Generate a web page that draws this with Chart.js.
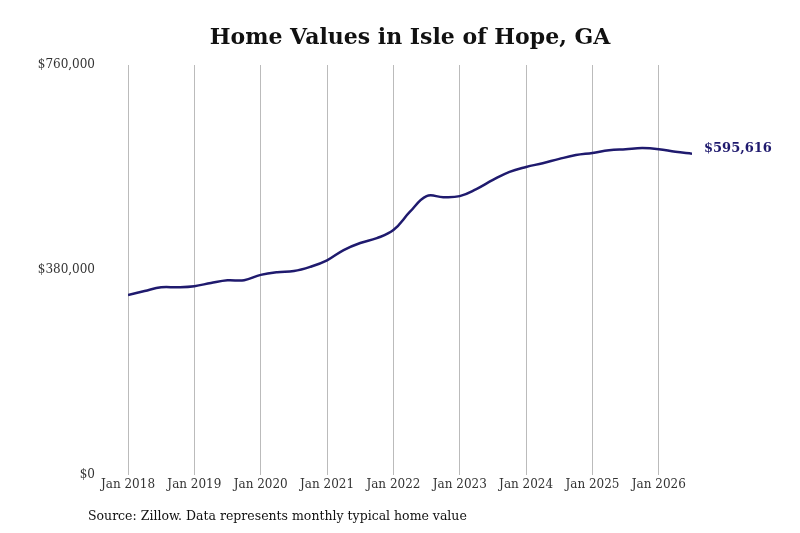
<!DOCTYPE html>
<html><head><meta charset="utf-8">
<script src="https://cdn.jsdelivr.net/npm/chart.js@4"></script>
<style>body{margin:0;background:#fff}#wrap{width:800px;height:533px}</style>
</head><body><div id="wrap"><canvas id="myChart"></canvas></div>
<script>
// months since Jan 2018, quarterly readings
var months = [0,3,6,9,12,15,18,21,24,27,30,33,36,39,42,45,48,51,54,57,60,63,66,69,72,75,78,81,84,87,90,93,96,99,102];
var values = [333700,341000,348000,348000,350000,356000,361000,361000,371000,376000,378000,386000,398000,417000,430000,439000,454000,488000,517000,515000,517000,530000,547000,562000,571000,578000,586000,593000,597000,602000,604000,606000,604000,599000,595616];
var yTicks = [0,380000,760000];
var lastLabel = "$595,616";
var serif = "'DejaVu Serif', 'Liberation Serif', serif";

var extras = {
  id: 'extras',
  afterDraw: function(c) {
    var ctx = c.ctx;
    ctx.save();
    ctx.fillStyle = '#111';
    ctx.font = 'bold 22px ' + serif;
    ctx.textAlign = 'center';
    ctx.textBaseline = 'middle';
    ctx.fillText('Home Values in Isle of Hope, GA', 410, 38);
    ctx.font = '12.5px ' + serif;
    ctx.textAlign = 'left';
    ctx.fillText('Source: Zillow. Data represents monthly typical home value', 88, 517);
    var x = c.scales.x.getPixelForValue(months[months.length-1]);
    var y = c.scales.y.getPixelForValue(values[values.length-1]);
    ctx.fillStyle = '#1f1a6e';
    ctx.font = 'bold 13px ' + serif;
    ctx.fillText(lastLabel, x + 12, y - 5);
    ctx.restore();
  }
};

new Chart(document.getElementById('myChart'), {
  type: 'line',
  data: { datasets: [{
    data: months.map(function(m, i){ return {x: m, y: values[i]}; }),
    borderColor: '#1f1a6e', borderWidth: 2.5, pointRadius: 0, tension: 0.4, fill: false
  }]},
  options: {
    responsive: true, maintainAspectRatio: false, animation: false,
    layout: { padding: { top: 65, right: 108, bottom: 0, left: 0 } },
    plugins: { legend: { display: false }, tooltip: { enabled: false } },
    scales: {
      x: {
        type: 'linear', min: 0, max: 102,
        afterBuildTicks: function(s){ s.ticks = [0,12,24,36,48,60,72,84,96].map(function(v){ return {value: v}; }); },
        afterFit: function(s){ s.height = 58; },
        ticks: { color: '#333', font: { family: serif, size: 12 }, maxRotation: 0,
          callback: function(v){ return 'Jan ' + (2018 + v/12); } },
        grid: { color: '#bbb', drawTicks: false }, border: { display: false }
      },
      y: {
        min: 0, max: 760000,
        afterBuildTicks: function(s){ s.ticks = yTicks.map(function(v){ return {value: v}; }); },
        afterFit: function(s){ s.width = 128; },
        ticks: { color: '#333', padding: 25, font: { family: serif, size: 12 },
          callback: function(v){ return '$' + v.toLocaleString('en-US'); } },
        grid: { display: false }, border: { display: false }
      }
    }
  },
  plugins: [extras]
});
</script></body></html>
